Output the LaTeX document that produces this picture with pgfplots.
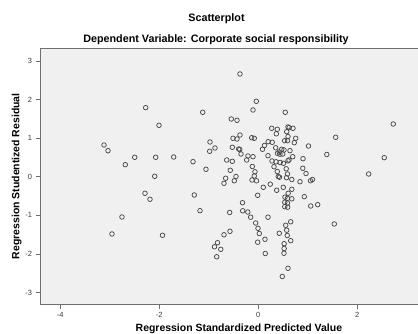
\documentclass[border=0pt]{standalone}
\usepackage{fontspec}
\setmainfont{Liberation Sans}
\usepackage{pgfplots}
\usepackage{pgfplotstable}
\pgfplotsset{compat=1.18}
\definecolor{bg}{HTML}{F0F0F0}
\definecolor{frame}{HTML}{6E6E6E}
\definecolor{mk}{HTML}{4A4A4A}
\definecolor{tk}{HTML}{383838}
\pgfplotstableread{
x y
-2.275 1.788
-1.123 1.668
-2.006 1.332
-0.545 1.495
-0.430 1.461
-3.117 0.821
-3.036 0.674
-0.976 0.899
-0.511 0.995
-0.430 0.977
-0.370 1.080
-0.875 0.744
-0.982 0.658
-0.525 0.762
-0.396 0.718
-2.497 0.503
-2.073 0.503
-1.709 0.510
-2.687 0.311
-1.319 0.389
-0.638 0.433
-0.525 0.399
-1.057 0.192
-0.566 0.166
-2.093 0.010
-0.659 -0.041
-0.451 0.005
-0.693 -0.171
-0.485 -0.106
-2.289 -0.430
-2.188 -0.585
-1.293 -0.474
-2.754 -1.044
-1.178 -0.881
-0.578 -0.927
-2.956 -1.484
-1.935 -1.518
-0.572 -1.415
-0.693 -1.505
-0.824 -1.710
-0.885 -1.816
-0.758 -1.881
-0.840 -2.075
-0.370 2.661
-0.040 1.953
-0.107 1.728
-0.133 1.010
-0.081 0.995
0.085 0.710
0.125 0.808
-0.349 0.588
-0.208 0.536
-0.107 0.518
-0.234 0.433
-0.121 0.264
-0.067 0.127
-0.081 0.018
-0.127 -0.085
-0.036 -0.106
-0.374 0.705
0.545 1.668
2.727 1.365
0.271 1.254
0.384 1.228
0.364 1.111
0.600 1.288
0.624 1.272
0.701 1.254
0.574 1.166
0.600 1.041
0.756 0.995
0.727 0.881
0.533 0.933
0.590 0.933
1.564 1.021
1.014 0.795
0.200 0.907
0.281 0.891
0.352 0.749
0.424 0.640
0.473 0.710
0.519 0.692
0.493 0.588
0.438 0.583
0.388 0.606
0.640 0.674
0.695 0.518
0.196 0.544
0.903 0.466
1.384 0.575
2.545 0.492
0.277 0.407
0.358 0.386
0.442 0.368
0.509 0.347
0.620 0.433
0.600 0.412
0.317 0.259
0.564 0.205
0.899 0.218
0.964 0.083
0.384 0.135
0.404 0.005
0.428 -0.013
0.590 0.070
0.570 -0.026
0.677 -0.073
1.055 -0.106
1.095 -0.073
2.230 0.070
0.842 -0.130
0.101 -0.275
0.242 -0.194
0.505 -0.275
0.372 -0.352
0.677 -0.326
0.604 -0.430
-0.012 -0.482
0.539 -0.531
0.590 -0.560
0.677 -0.573
0.535 -0.661
0.590 -0.681
0.535 -0.777
0.594 -0.790
0.929 -0.518
1.059 -0.759
1.200 -0.725
-0.319 -0.674
-0.315 -0.883
-0.212 -0.915
-0.154 -1.049
0.196 -1.049
-0.053 -1.199
-0.006 -1.337
0.020 -1.472
0.655 -1.168
0.554 -1.259
0.574 -1.386
0.586 -1.523
0.424 -1.466
1.535 -1.225
-0.012 -1.697
0.135 -1.622
0.655 -1.658
0.523 -1.736
0.523 -1.860
0.519 -1.984
0.141 -1.990
0.600 -2.373
0.485 -2.585
}\residuals
\begin{document}
\begin{tikzpicture}
\useasboundingbox (0,0) rectangle (418bp,334bp);
\begin{axis}[
  at={(40bp,29.5bp)}, anchor=south west,
  scale only axis, width=380bp, height=256.5bp,
  xmin=-4.41, xmax=3.267, ymin=-3.311, ymax=3.334,
  axis background/.style={fill=bg},
  axis line style={draw=frame, line width=0.8bp},
  xtick={-4,-2,0,2}, xticklabels={-4,-2,0,2},
  ytick={-3,-2,-1,0,1,2,3}, yticklabels={-3,-2,-1,0,1,2,3},
  tick align=outside, major tick length=4.5bp,
  tick style={draw=frame, line width=0.7bp},
  xtick pos=lower, ytick pos=left,
  ticklabel style={font=\fontsize{7.5}{8.5}\selectfont, text=tk},
  xlabel={Regression Standardized Predicted Value},
  ylabel={Regression Studentized Residual},
  label style={font=\bfseries\fontsize{10.5}{12}\selectfont},
  xlabel style={at={(axis description cs:0.5234,-0.0936)}, anchor=center},
  ylabel style={at={(axis description cs:-0.0613,0.5)}, anchor=center},
]
\addplot[only marks, mark=o, mark size=2.3bp, mark options={draw=mk, line width=0.75bp}] table {\residuals};
\end{axis}
\node[font=\bfseries\fontsize{10.8}{13}\selectfont] at (216.5bp,315bp) {Scatterplot};
\node[font=\bfseries\fontsize{10.8}{13}\selectfont] at (216bp,294.7bp) {Dependent Variable: Corporate social responsibility};
\end{tikzpicture}
\end{document}
